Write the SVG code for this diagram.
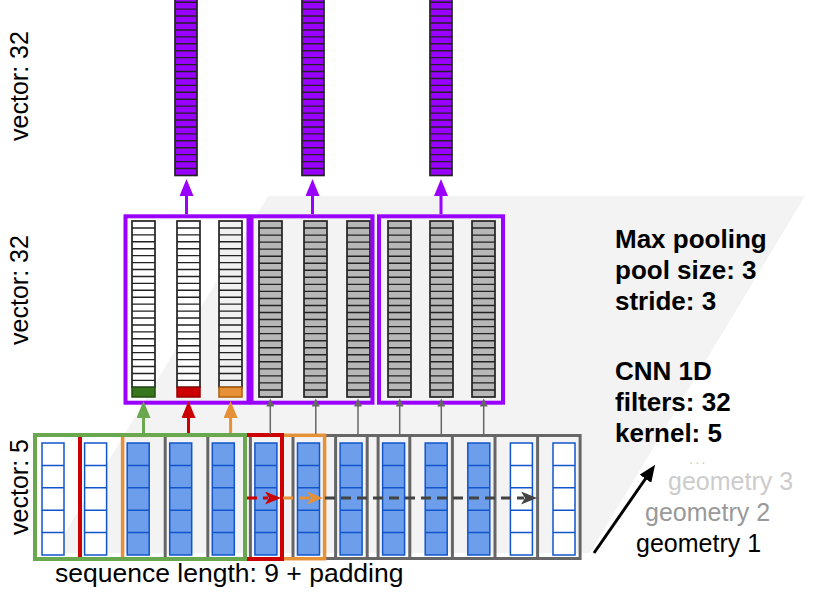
<svg xmlns="http://www.w3.org/2000/svg" width="830" height="592" viewBox="0 0 830 592">
<style>
.t{font-family:"Liberation Sans",Arial,sans-serif;}
.b{font-weight:bold;font-size:26px;fill:#000}
.lab{font-size:25px;fill:#000}
.cell{stroke:#222;stroke-width:1.7}
.dv{stroke:#222;stroke-width:1.4;fill:none}
.in{stroke:#1155cc;stroke-width:1.5}
.kg{fill:none;stroke:#666;stroke-width:3}
.pool{fill:none;stroke:#9900ff;stroke-width:4}
</style>
<defs>
<path id="wdiv" class="dv" d="M0 6.93h23M0 13.86h23M0 20.79h23M0 27.72h23M0 34.65h23M0 41.58h23M0 48.51h23M0 55.44h23M0 62.37h23M0 69.3h23M0 76.23h23M0 83.16h23M0 90.09h23M0 97.02h23M0 103.95h23M0 110.88h23M0 117.81h23M0 124.74h23M0 131.67h23M0 138.6h23M0 145.53h23M0 152.46h23M0 159.39h23"/>
<path id="gdiv" class="dv" d="M0 7.04h23M0 14.08h23M0 21.12h23M0 28.16h23M0 35.2h23M0 42.24h23M0 49.28h23M0 56.32h23M0 63.36h23M0 70.4h23M0 77.44h23M0 84.48h23M0 91.52h23M0 98.56h23M0 105.6h23M0 112.64h23M0 119.68h23M0 126.72h23M0 133.76h23M0 140.8h23M0 147.84h23M0 154.88h23M0 161.92h23M0 168.96h23"/>
<path id="pdiv" class="dv" stroke="#000" d="M0 6.93h22M0 13.86h22M0 20.79h22M0 27.72h22M0 34.65h22M0 41.58h22M0 48.51h22M0 55.44h22M0 62.37h22M0 69.3h22M0 76.23h22M0 83.16h22M0 90.09h22M0 97.02h22M0 103.95h22M0 110.88h22M0 117.81h22M0 124.74h22M0 131.67h22M0 138.6h22M0 145.53h22M0 152.46h22M0 159.39h22M0 166.32h22M0 173.25h22M0 180.18h22M0 187.11h22M0 194.04h22M0 200.97h22M0 207.9h22M0 214.83h22"/>
<path id="idiv" fill="none" stroke="#1155cc" stroke-width="1.5" d="M0 22.4h22M0 44.8h22M0 67.2h22M0 89.6h22"/>
<g id="gcol"><rect width="23" height="176" fill="#b7b7b7" class="cell"/><use href="#gdiv"/></g>
<g id="pbar"><rect width="22" height="221.76" fill="#9900ff" class="cell" stroke="#000"/><use href="#pdiv"/></g>
<g id="bin"><rect width="22" height="112" fill="#6d9eeb" class="in"/><use href="#idiv"/></g>
<g id="win"><rect width="22" height="112" fill="#ffffff" class="in"/><use href="#idiv"/></g>
<marker id="mP" markerUnits="userSpaceOnUse" markerWidth="18" markerHeight="14" refX="1" refY="7" orient="auto"><path d="M0,0L17,7L0,14z" fill="#9900ff"/></marker>
<marker id="mG" markerUnits="userSpaceOnUse" markerWidth="18" markerHeight="14" refX="1" refY="7" orient="auto"><path d="M0,0L17,7L0,14z" fill="#6aa84f"/></marker>
<marker id="mR" markerUnits="userSpaceOnUse" markerWidth="18" markerHeight="14" refX="1" refY="7" orient="auto"><path d="M0,0L17,7L0,14z" fill="#cc0000"/></marker>
<marker id="mO" markerUnits="userSpaceOnUse" markerWidth="18" markerHeight="14" refX="1" refY="7" orient="auto"><path d="M0,0L17,7L0,14z" fill="#e69138"/></marker>
<marker id="mK" markerUnits="userSpaceOnUse" markerWidth="9" markerHeight="8" refX="0.5" refY="4" orient="auto"><path d="M0,0L8,4L0,8z" fill="#666666"/></marker>
<marker id="sR" markerUnits="userSpaceOnUse" markerWidth="17" markerHeight="13" refX="3" refY="6.5" orient="auto"><path d="M0,0L16,6.5L0,13L4,6.5z" fill="#cc0000"/></marker>
<marker id="sO" markerUnits="userSpaceOnUse" markerWidth="17" markerHeight="13" refX="3" refY="6.5" orient="auto"><path d="M0,0L16,6.5L0,13L4,6.5z" fill="#e69138"/></marker>
<marker id="sD" markerUnits="userSpaceOnUse" markerWidth="17" markerHeight="13" refX="3" refY="6.5" orient="auto"><path d="M0,0L16,6.5L0,13L4,6.5z" fill="#434343"/></marker>
<marker id="mB" markerUnits="userSpaceOnUse" markerWidth="18" markerHeight="14" refX="1" refY="7" orient="auto"><path d="M0,0L17,7L0,14z" fill="#000"/></marker>
</defs>

<polygon id="background" points="268,196 805,196 590,553 53,553" fill="#f3f3f3"/>

<g id="output-vectors">
<g id="out1"><use href="#pbar" x="175" y="-46.3"/></g>
<g id="out2"><use href="#pbar" x="302" y="-46.3"/></g>
<g id="out3"><use href="#pbar" x="430" y="-46.3"/></g>
</g>

<g id="conv-columns">
<g id="c1"><rect x="132" y="221" width="23" height="166.3" fill="#ffffff" class="cell"/><use href="#wdiv" x="132" y="221"/><rect x="132" y="387.3" width="23" height="9.7" fill="#38761d" stroke="#274e13" stroke-width="1.5"/></g>
<g id="c2"><rect x="177" y="221" width="23" height="166.3" fill="#ffffff" class="cell"/><use href="#wdiv" x="177" y="221"/><rect x="177" y="387.3" width="23" height="9.7" fill="#cc0000" stroke="#990000" stroke-width="1.5"/></g>
<g id="c3"><rect x="219" y="221" width="23" height="166.3" fill="#f1f1f1" class="cell"/><use href="#wdiv" x="219" y="221"/><rect x="219" y="387.3" width="23" height="9.7" fill="#e69138" stroke="#b45f06" stroke-width="1.5"/></g>
<g id="c4"><use href="#gcol" x="259" y="221"/></g>
<g id="c5"><use href="#gcol" x="304" y="221"/></g>
<g id="c6"><use href="#gcol" x="347" y="221"/></g>
<g id="c7"><use href="#gcol" x="388" y="221"/></g>
<g id="c8"><use href="#gcol" x="430" y="221"/></g>
<g id="c9"><use href="#gcol" x="472" y="221"/></g>
</g>

<g id="pool-windows">
<rect id="pool1" class="pool" x="125.5" y="216.3" width="123" height="186.4"/>
<rect id="pool2" class="pool" x="251.5" y="216.3" width="121" height="186.4"/>
<rect id="pool3" class="pool" x="379" y="216.3" width="124" height="186.4"/>
</g>

<g id="input-columns">
<g id="x0"><use href="#win" x="42" y="443"/></g>
<g id="x1"><use href="#win" x="84.6" y="443"/></g>
<g id="x2"><use href="#bin" x="127.2" y="443"/></g>
<g id="x3"><use href="#bin" x="169.7" y="443"/></g>
<g id="x4"><use href="#bin" x="212.3" y="443"/></g>
<g id="x5"><use href="#bin" x="254.9" y="443"/></g>
<g id="x6"><use href="#bin" x="297.5" y="443"/></g>
<g id="x7"><use href="#bin" x="340.1" y="443"/></g>
<g id="x8"><use href="#bin" x="382.6" y="443"/></g>
<g id="x9"><use href="#bin" x="425.2" y="443"/></g>
<g id="x10"><use href="#bin" x="467.8" y="443"/></g>
<g id="x11"><use href="#win" x="510.4" y="443"/></g>
<g id="x12"><use href="#win" x="553" y="443"/></g>
</g>

<g id="kernel-windows">
<rect id="k8" class="kg" x="378.1" y="435.5" width="202" height="123"/>
<rect id="k7" class="kg" x="335.6" y="435.5" width="202" height="123"/>
<rect id="k6" class="kg" x="293" y="435.5" width="202" height="123"/>
<rect id="k5" class="kg" x="250.4" y="435.5" width="202" height="123"/>
<rect id="k4" class="kg" x="207.8" y="435.5" width="202" height="123"/>
<rect id="k3" class="kg" x="165.2" y="435.5" width="202" height="123"/>
<rect id="k2" x="122.6" y="435.3" width="202" height="123.4" fill="none" stroke="#e69138" stroke-width="3.5"/>
<rect id="k1" x="80" y="435" width="202" height="124" fill="none" stroke="#cc0000" stroke-width="4"/>
<rect id="k0" x="35" y="435" width="210" height="124" fill="none" stroke="#6aa84f" stroke-width="4"/>
</g>

<g id="connectors">
<line x1="186.5" y1="214" x2="186.5" y2="195" stroke="#9900ff" stroke-width="3" marker-end="url(#mP)"/>
<line x1="312.5" y1="214" x2="312.5" y2="195" stroke="#9900ff" stroke-width="3" marker-end="url(#mP)"/>
<line x1="441" y1="214" x2="441" y2="195" stroke="#9900ff" stroke-width="3" marker-end="url(#mP)"/>
<line x1="143.5" y1="433" x2="143.5" y2="417" stroke="#6aa84f" stroke-width="3" marker-end="url(#mG)"/>
<line x1="188.5" y1="433" x2="188.5" y2="417" stroke="#cc0000" stroke-width="3" marker-end="url(#mR)"/>
<line x1="230.6" y1="433" x2="230.6" y2="417" stroke="#e69138" stroke-width="3" marker-end="url(#mO)"/>
<line x1="270.3" y1="434" x2="270.3" y2="406" stroke="#666" stroke-width="1.5" marker-end="url(#mK)"/>
<line x1="315.8" y1="434" x2="315.8" y2="406" stroke="#666" stroke-width="1.5" marker-end="url(#mK)"/>
<line x1="358" y1="434" x2="358" y2="406" stroke="#666" stroke-width="1.5" marker-end="url(#mK)"/>
<line x1="399.7" y1="434" x2="399.7" y2="406" stroke="#666" stroke-width="1.5" marker-end="url(#mK)"/>
<line x1="441.3" y1="434" x2="441.3" y2="406" stroke="#666" stroke-width="1.5" marker-end="url(#mK)"/>
<line x1="483.7" y1="434" x2="483.7" y2="406" stroke="#666" stroke-width="1.5" marker-end="url(#mK)"/>
<line x1="247" y1="498" x2="268" y2="498" stroke="#cc0000" stroke-width="3" stroke-dasharray="10 6" marker-end="url(#sR)"/>
<line x1="283" y1="498" x2="310" y2="498" stroke="#e69138" stroke-width="3" stroke-dasharray="10 6" marker-end="url(#sO)"/>
<line x1="325" y1="498" x2="524" y2="498" stroke="#434343" stroke-width="3" stroke-dasharray="10 6" marker-end="url(#sD)"/>
<line x1="594" y1="553" x2="646" y2="478" stroke="#000" stroke-width="3" marker-end="url(#mB)"/>
</g>

<g id="labels" class="t">
<text class="lab" transform="translate(28,86) rotate(-90)" text-anchor="middle">vector: 32</text>
<text class="lab" transform="translate(28,290) rotate(-90)" text-anchor="middle">vector: 32</text>
<text class="lab" transform="translate(28,487) rotate(-90)" text-anchor="middle">vector: 5</text>
<text class="lab" x="55" y="582" style="font-size:26.5px">sequence length: 9 + padding</text>
<text class="b" x="615" y="248">Max pooling</text>
<text class="b" x="615" y="279">pool size: 3</text>
<text class="b" x="615" y="310">stride: 3</text>
<text class="b" x="615" y="380">CNN 1D</text>
<text class="b" x="615" y="411">filters: 32</text>
<text class="b" x="615" y="442">kernel: 5</text>
<text class="lab" x="689" y="464" style="fill:#cccccc;font-size:15px;letter-spacing:2px">...</text>
<text class="lab" x="668" y="490" style="fill:#cccccc">geometry 3</text>
<text class="lab" x="645" y="521" style="fill:#999999">geometry 2</text>
<text class="lab" x="636" y="552">geometry 1</text>
</g>
</svg>
